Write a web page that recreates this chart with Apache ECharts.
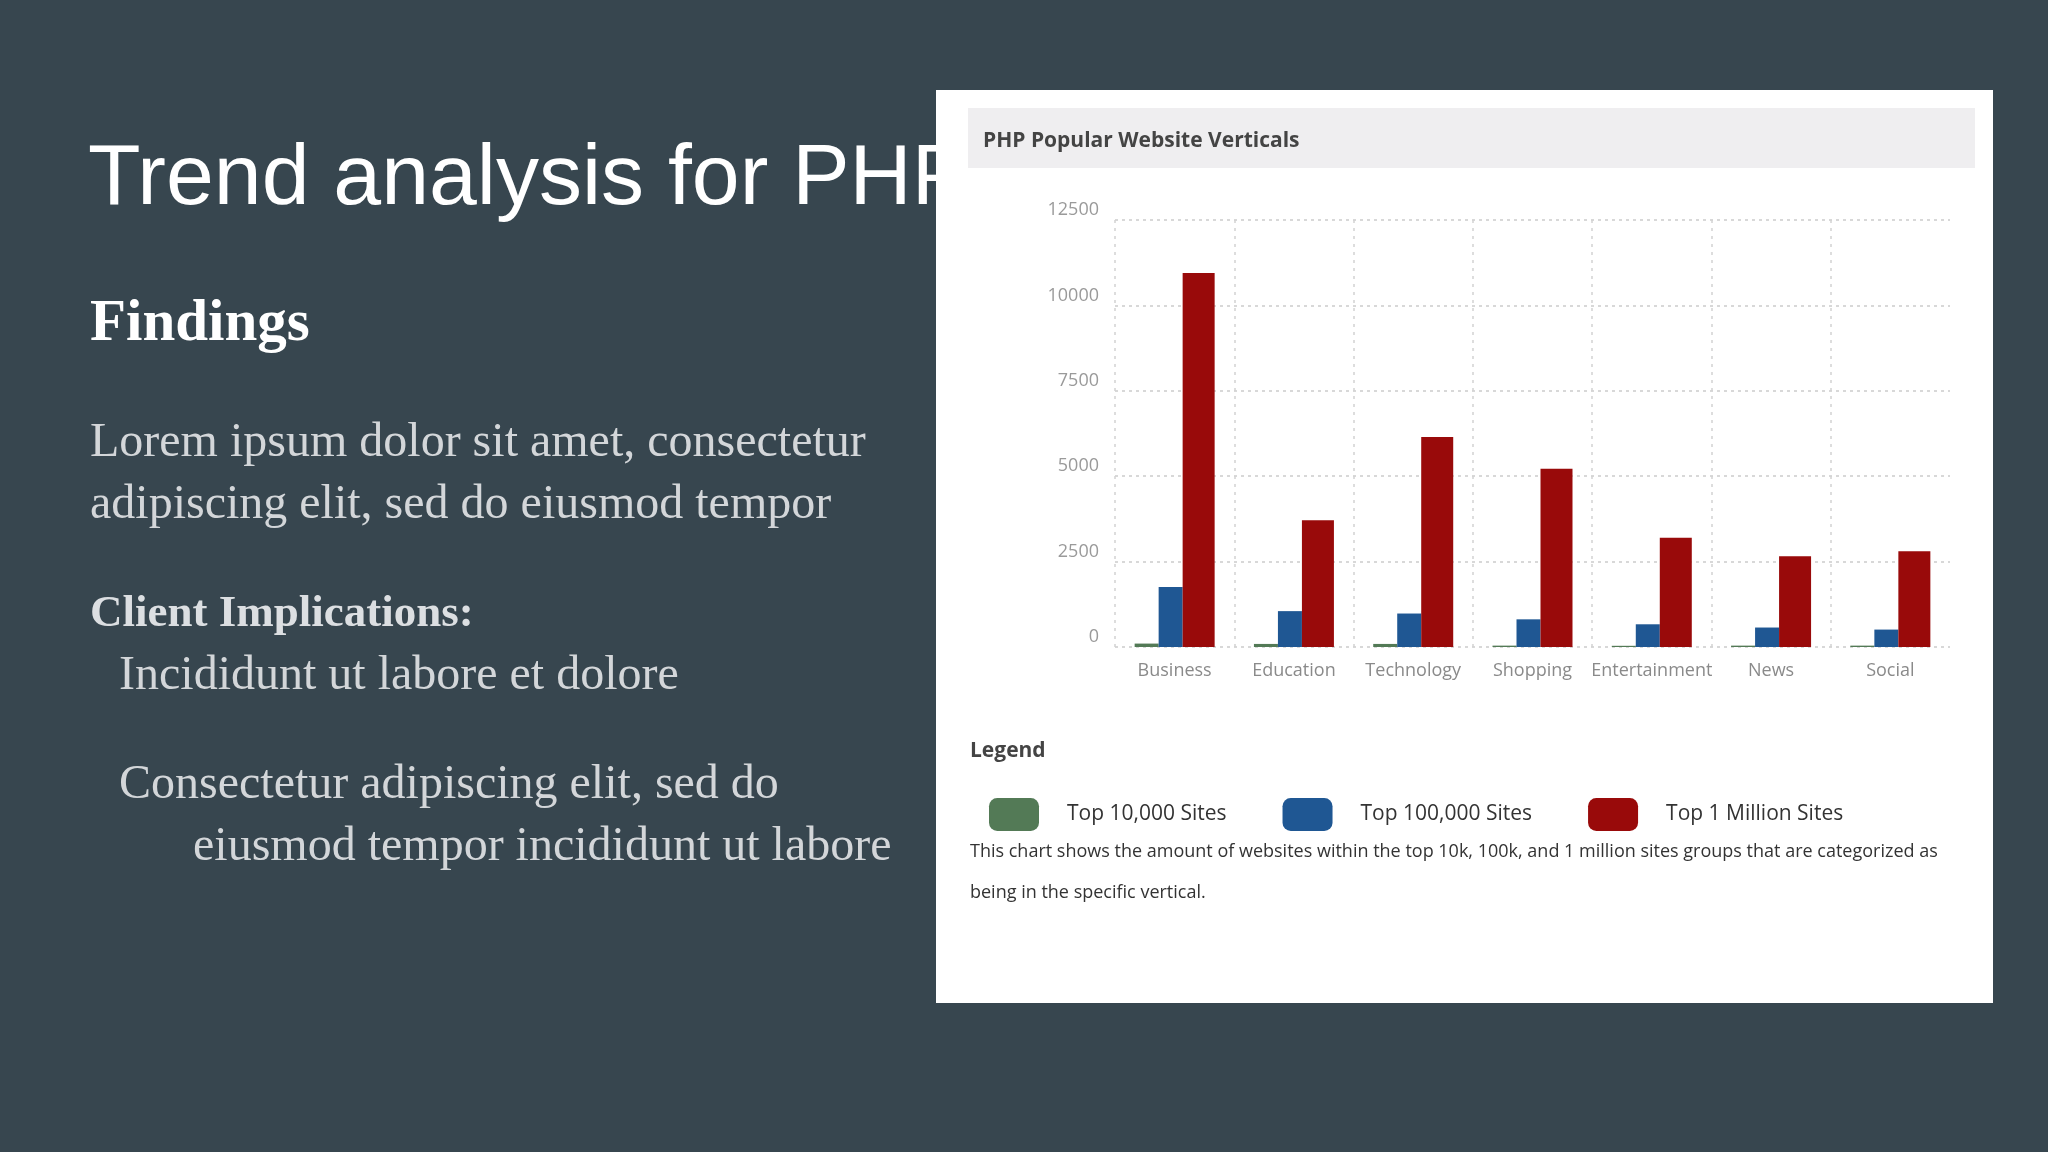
<!DOCTYPE html>
<html>
<head>
<meta charset="utf-8">
<title>PHP Popular Website Verticals</title>
<script src="https://cdn.jsdelivr.net/npm/echarts@6/dist/echarts.min.js"></script>
<style>
  html, body { margin: 0; padding: 0; background: #37464f; }
  #chart { width: 2048px; height: 1152px; }
</style>
</head>
<body>
<div id="chart"></div>
<script>
const categories = ['Business', 'Education', 'Technology', 'Shopping', 'Entertainment', 'News', 'Social']
const seriesNames = ['Top 10,000 Sites', 'Top 100,000 Sites', 'Top 1 Million Sites']
const top10k = [100, 90, 90, 40, 35, 40, 40]
const top100k = [1760, 1050, 980, 810, 665, 570, 510]
const top1m = [10950, 3710, 6150, 5220, 3200, 2660, 2800]
const yMax = 12500
const yStep = 2500

const colors = ['#537a56', '#1f5793', '#990a0a']
const serif = '"Liberation Serif", "DejaVu Serif", serif'
const sans = '"Open Sans", "Noto Sans", sans-serif'

function slideText(text, x, y, size, opts) {
  opts = opts || {}
  return {
    type: 'text',
    z: opts.z || 1,
    style: {
      text: text,
      x: x,
      y: y,
      fill: opts.color || '#d3d6d9',
      fontFamily: opts.family || serif,
      fontSize: size,
      fontWeight: opts.weight || 'normal',
      verticalAlign: 'middle'
    }
  }
}

const chart = echarts.init(document.getElementById('chart'))

chart.setOption({
  backgroundColor: '#37464f',
  animation: false,
  graphic: [
    // slide title, sits under the card
    slideText('Trend analysis for PHP', 88, 180, 86, { color: '#ffffff', family: '"Liberation Sans", Arial, sans-serif', z: -10 }),
    { type: 'rect', z: -5, shape: { x: 936, y: 90, width: 1057, height: 913 }, style: { fill: '#ffffff' } },
    { type: 'rect', z: -4, shape: { x: 968, y: 108, width: 1007, height: 60 }, style: { fill: '#efeef0' } },
    slideText('PHP Popular Website Verticals', 983, 141, 21, { color: '#444444', family: sans, weight: 'bold' }),
    slideText('Legend', 970, 751, 21, { color: '#444444', family: sans, weight: 'bold' }),
    slideText('This chart shows the amount of websites within the top 10k, 100k, and 1 million sites groups that are categorized as', 970, 852, 18, { color: '#333333', family: sans }),
    slideText('being in the specific vertical.', 970, 893, 18, { color: '#333333', family: sans }),

    slideText('Findings', 90, 325, 59, { color: '#ffffff', weight: 'bold' }),
    slideText('Lorem ipsum dolor sit amet, consectetur', 90, 443, 48),
    slideText('adipiscing elit, sed do eiusmod tempor', 90, 505, 48),
    slideText('Client Implications:', 90, 614, 45, { color: '#dcdfe2', weight: 'bold' }),
    slideText('Incididunt ut labore et dolore', 119, 676, 48),
    slideText('Consectetur adipiscing elit, sed do', 119, 785, 48),
    slideText('eiusmod tempor incididunt ut labore', 193, 847, 48)
  ],
  legend: {
    left: 984,
    top: 793,
    itemWidth: 50,
    itemHeight: 33,
    itemGap: 56,
    icon: 'roundRect',
    textStyle: {
      color: '#333333',
      fontSize: 21,
      fontFamily: sans,
      padding: [0, 0, 0, 23]
    },
    data: seriesNames
  },
  grid: {
    left: 1115,
    top: 220,
    width: 835,
    height: 427
  },
  xAxis: {
    type: 'category',
    data: categories,
    axisLine: { show: false },
    axisTick: { show: false },
    axisLabel: {
      interval: 0,
      color: '#8a8a8a',
      fontSize: 18,
      fontFamily: sans,
      margin: 15
    },
    splitLine: {
      show: true,
      showMaxLine: false,
      lineStyle: { color: '#d2d2d2', width: 1.5, type: [3, 5] }
    }
  },
  yAxis: {
    type: 'value',
    min: 0,
    max: yMax,
    interval: yStep,
    axisLine: { show: false },
    axisTick: { show: false },
    axisLabel: {
      color: '#9a9a9a',
      fontSize: 18,
      fontFamily: sans,
      margin: 16,
      verticalAlign: 'bottom',
      lineHeight: 20,
      formatter: value => String(value)
    },
    splitLine: {
      lineStyle: { color: '#d8d8d8', width: 2, type: [3, 4] }
    }
  },
  series: [
    {
      name: seriesNames[0],
      type: 'bar',
      barWidth: 24,
      barGap: '0%',
      itemStyle: { color: colors[0] },
      data: top10k
    },
    {
      name: seriesNames[1],
      type: 'bar',
      barWidth: 24,
      barGap: '0%',
      itemStyle: { color: colors[1] },
      data: top100k
    },
    {
      name: seriesNames[2],
      type: 'bar',
      barWidth: 32,
      barGap: '0%',
      itemStyle: { color: colors[2] },
      data: top1m
    }
  ]
})
</script>
</body>
</html>
